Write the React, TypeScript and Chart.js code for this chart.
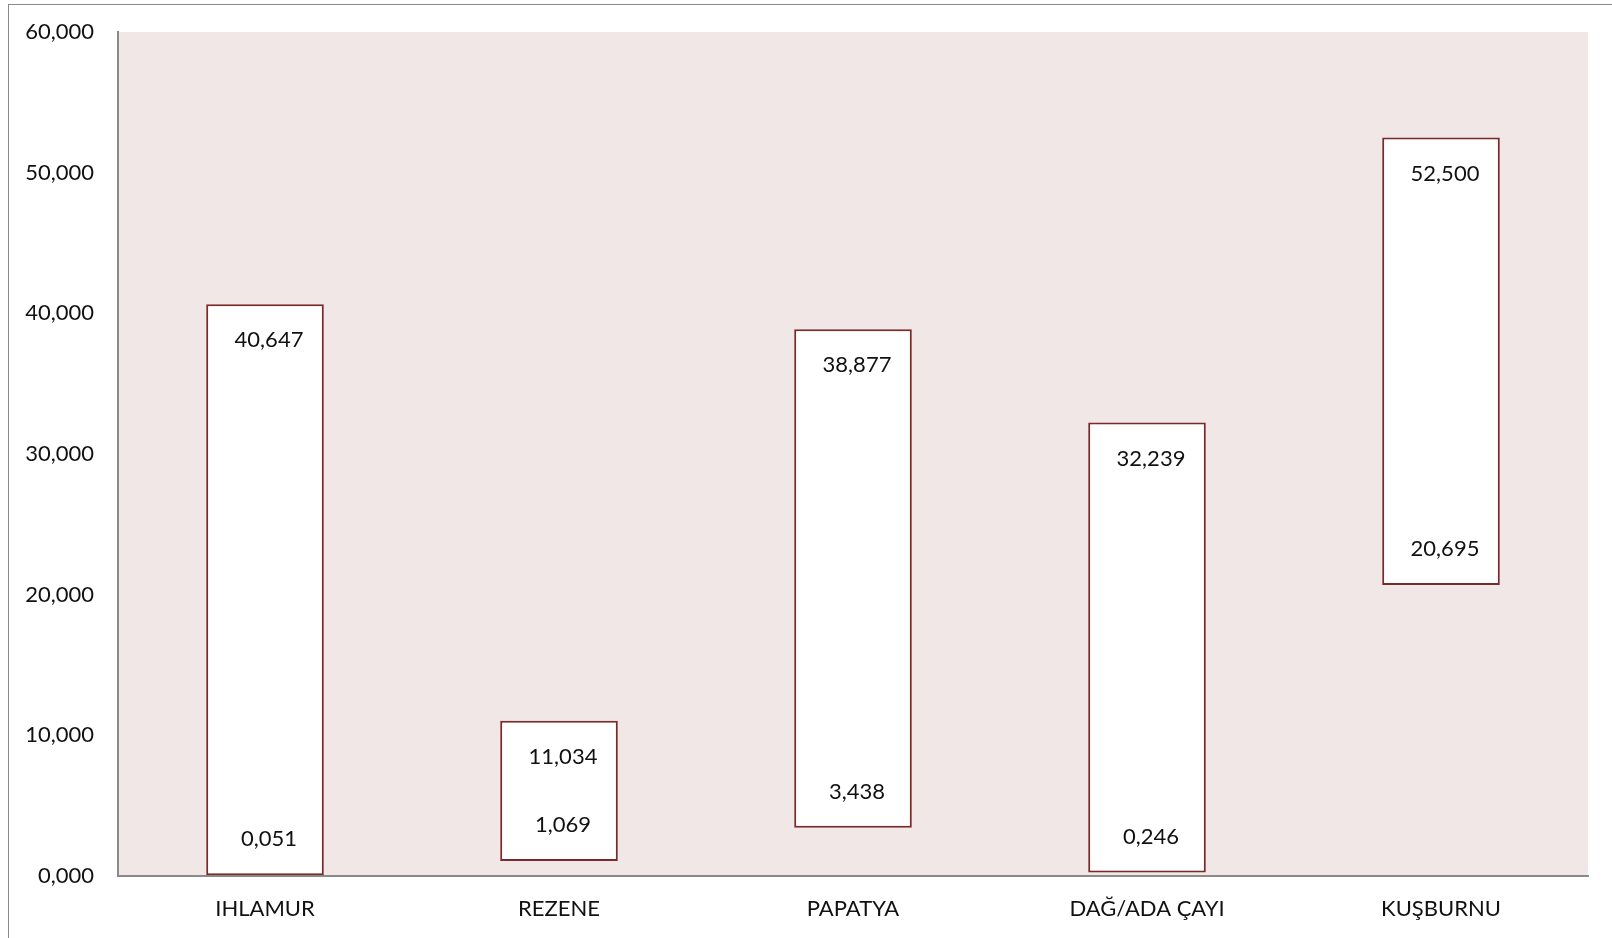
import React, { useEffect, useRef } from "react";
import { Chart, registerables } from "chart.js";

Chart.register(...registerables);

const categories = ["IHLAMUR", "REZENE", "PAPATYA", "DAĞ/ADA ÇAYI", "KUŞBURNU"];
const minValues = [0.051, 1.069, 3.438, 0.246, 20.695];
const maxValues = [40.647, 11.034, 38.877, 32.239, 52.5];
const yMin = 0;
const yMax = 60;
const yStep = 10;

const fmt = (v: number) => v.toFixed(3).replace(".", ",");
const FONT = "Lato, 'DejaVu Sans', sans-serif";

const bgPlugin = {
  id: "plotBg",
  beforeDraw(chart: any) {
    const { ctx, chartArea } = chart;
    ctx.save();
    ctx.fillStyle = "#f2e7e7";
    ctx.fillRect(chartArea.left, chartArea.top, chartArea.right - chartArea.left, chartArea.bottom - chartArea.top);
    ctx.restore();
  },
};

const labelPlugin = {
  id: "rangeLabels",
  afterDatasetsDraw(chart: any) {
    const { ctx } = chart;
    const meta = chart.getDatasetMeta(0);
    ctx.save();
    ctx.font = `22px ${FONT}`;
    ctx.fillStyle = "#111";
    ctx.textAlign = "center";
    ctx.textBaseline = "middle";
    meta.data.forEach((bar: any, i: number) => {
      const top = Math.min(bar.y, bar.base);
      const bottom = Math.max(bar.y, bar.base);
      ctx.fillText(fmt(maxValues[i]), bar.x + 4, top + 36);
      ctx.fillText(fmt(minValues[i]), bar.x + 4, bottom - 36);
    });
    ctx.restore();
  },
};

export default function App() {
  const ref = useRef<HTMLCanvasElement | null>(null);
  useEffect(() => {
    if (!ref.current) return;
    const chart = new Chart(ref.current, {
      type: "bar",
      data: {
        labels: categories,
        datasets: [
          {
            data: categories.map((_, i) => [minValues[i], maxValues[i]]) as any,
            backgroundColor: "#ffffff",
            borderColor: "#7a2a2a",
            borderWidth: 2,
            borderSkipped: false,
            categoryPercentage: 1,
            barPercentage: 0.4,
          },
        ],
      },
      options: {
        animation: false,
        responsive: false,
        maintainAspectRatio: false,
        layout: { padding: { left: 0, top: 32, right: 24, bottom: 0 } },
        plugins: { legend: { display: false }, tooltip: { enabled: false } },
        scales: {
          x: {
            grid: { display: false, drawTicks: false },
            border: { display: true, color: "#8a8a8a", width: 2 },
            ticks: { color: "#111", font: { family: FONT, size: 22 }, padding: 20 },
            afterFit(scale: any) {
              scale.height = 62;
              scale.paddingLeft = 0;
              scale.paddingRight = 0;
            },
          },
          y: {
            min: yMin,
            max: yMax,
            grid: { display: false, drawTicks: false },
            border: { display: true, color: "#8a8a8a", width: 2 },
            ticks: {
              stepSize: yStep,
              color: "#111",
              font: { family: FONT, size: 22 },
              padding: 24,
              callback: (v: any) => fmt(Number(v)),
            },
            afterFit(scale: any) {
              scale.width = 118;
              scale.paddingTop = 0;
              scale.paddingBottom = 0;
            },
          },
        },
      },
      plugins: [bgPlugin, labelPlugin],
    });
    return () => chart.destroy();
  }, []);

  return (
    <div style={{ position: "fixed", left: 0, top: 0, width: 1612, height: 938, overflow: "hidden", background: "#fff" }}>
      <div
        style={{
          position: "absolute",
          left: 8,
          top: 4,
          width: 1700,
          height: 1100,
          borderLeft: "1.5px solid #8a8a8a",
          borderTop: "1.5px solid #8a8a8a",
        }}
      />
      <canvas ref={ref} width={1612} height={938} style={{ position: "absolute", left: 0, top: 0, width: 1612, height: 938 }} />
    </div>
  );
}
